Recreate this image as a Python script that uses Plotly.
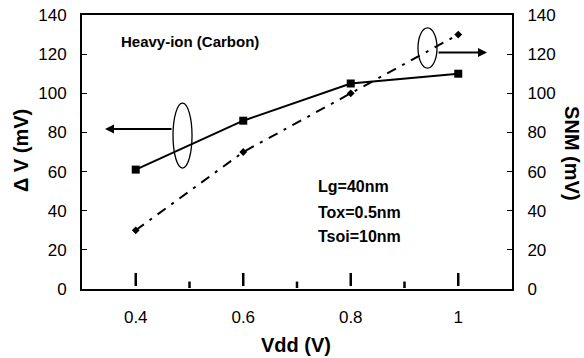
import plotly.graph_objects as go

# ---- data ----
vdd = [0.4, 0.6, 0.8, 1.0]
delta_v = [61, 86, 105, 110]      # left axis, solid + squares
snm = [30, 70, 100, 130]          # right axis, dash-dot + diamonds
x_tick_vals = [0.4, 0.6, 0.8, 1.0]
x_tick_text = ["0.4", "0.6", "0.8", "1"]
y_tick_vals = [0, 20, 40, 60, 80, 100, 120, 140]
params = ["Lg=40nm", "Tox=0.5nm", "Tsoi=10nm"]

TICK_FONT = dict(family="Liberation Sans, Arial, sans-serif", size=17, color="black")
BOLD = "Liberation Sans, Arial, sans-serif"

fig = go.Figure()

fig.add_trace(go.Scatter(
    x=vdd, y=delta_v, mode="lines+markers", name="ΔV",
    line=dict(color="black", width=2),
    marker=dict(symbol="square", size=8, color="black"),
    showlegend=False, yaxis="y"))

fig.add_trace(go.Scatter(
    x=vdd, y=snm, mode="lines+markers", name="SNM",
    line=dict(color="black", width=2, dash="10px,7px,3px,7px"),
    marker=dict(symbol="diamond", size=6, color="black"),
    showlegend=False, yaxis="y2"))

shapes = []
# detached vertical marks above each category
for v in vdd:
    shapes.append(dict(type="line", xref="x", yref="y", x0=v, x1=v, y0=1.5, y1=8.2,
                       line=dict(color="black", width=2.5), layer="above"))
# short inside ticks at category boundaries
for a, b in zip(vdd[:-1], vdd[1:]):
    m = (a + b) / 2
    shapes.append(dict(type="line", xref="x", yref="y", x0=m, x1=m, y0=0.5, y1=3.8,
                       line=dict(color="black", width=2.5), layer="above"))
# ellipses
shapes.append(dict(type="circle", xref="x", yref="y", x0=0.4693, x1=0.5047, y0=61.8, y1=95.0,
                   line=dict(color="black", width=1.3)))
shapes.append(dict(type="circle", xref="x", yref="y", x0=0.9251, x1=0.9605, y0=112.9, y1=133.4,
                   line=dict(color="black", width=1.3)))

annotations = [
    # arrows
    dict(x=0.3428, y=81.8, ax=0.4693, ay=81.8, xref="x", yref="y", axref="x", ayref="y",
         showarrow=True, arrowhead=2, arrowsize=0.9, arrowwidth=2, arrowcolor="black", text=""),
    dict(x=1.0535, y=120.8, ax=0.9605, ay=120.8, xref="x", yref="y", axref="x", ayref="y",
         showarrow=True, arrowhead=2, arrowsize=0.9, arrowwidth=2, arrowcolor="black", text=""),
    # texts
    dict(x=0.2512, y=0.9015, xref="paper", yref="paper", text="<b>Heavy-ion (Carbon)</b>",
         showarrow=False, xanchor="center", yanchor="middle",
         font=dict(family=BOLD, size=15, color="black")),
]
for txt, yy in zip(params, [0.3723, 0.281, 0.1934]):
    annotations.append(dict(x=0.5442, y=yy, xref="paper", yref="paper", text="<b>%s</b>" % txt,
                            showarrow=False, xanchor="left", yanchor="middle",
                            font=dict(family=BOLD, size=16, color="black")))
# axis titles
annotations.append(dict(x=-0.1419, y=0.507, xref="paper", yref="paper", text="<b>Δ V (mV)</b>",
                        textangle=-90, showarrow=False, xanchor="center", yanchor="middle",
                        font=dict(family=BOLD, size=20, color="black")))
annotations.append(dict(x=1.1395, y=0.496, xref="paper", yref="paper", text="<b>SNM (mV)</b>",
                        textangle=90, showarrow=False, xanchor="center", yanchor="middle",
                        font=dict(family=BOLD, size=20, color="black")))
annotations.append(dict(x=0.4977, y=-0.206, xref="paper", yref="paper", text="<b>Vdd (V)</b>",
                        showarrow=False, xanchor="center", yanchor="middle",
                        font=dict(family=BOLD, size=20, color="black")))

fig.update_layout(
    width=584, height=358,
    margin=dict(l=82, r=72, t=15, b=69, autoexpand=False),
    paper_bgcolor="white", plot_bgcolor="white",
    showlegend=False,
    shapes=shapes, annotations=annotations,
    xaxis=dict(range=[0.3, 1.1], tickvals=x_tick_vals, ticktext=x_tick_text,
               ticks="", showgrid=False, zeroline=False,
               showline=True, linecolor="black", linewidth=2, mirror=True,
               tickfont=TICK_FONT, ticklabelstandoff=12),
    yaxis=dict(range=[0, 140], tickvals=y_tick_vals, ticks="inside", ticklen=5, tickwidth=1,
               tickcolor="black", showgrid=False, zeroline=False,
               showline=True, linecolor="black", linewidth=2,
               tickfont=TICK_FONT, ticklabelstandoff=10),
    yaxis2=dict(range=[0, 140], tickvals=y_tick_vals, ticks="inside", ticklen=5, tickwidth=1,
                tickcolor="black", showgrid=False, zeroline=False,
                showline=True, linecolor="black", linewidth=2,
                overlaying="y", side="right",
                tickfont=TICK_FONT, ticklabelstandoff=10),
)

fig.write_html("out.html")
